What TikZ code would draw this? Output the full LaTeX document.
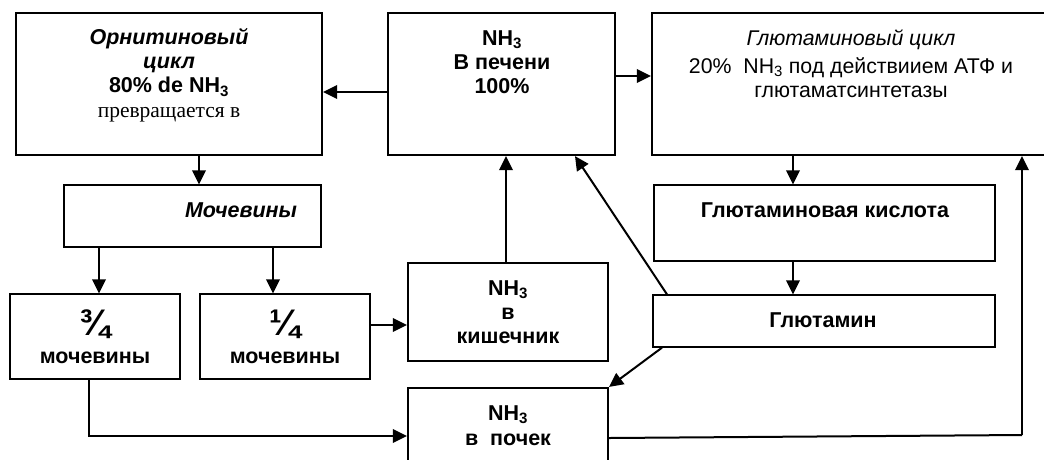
\documentclass[tikz,border=0pt]{standalone}
\usepackage{fontspec}
\setmainfont{Liberation Sans}
\newfontfamily\serifcyr{Liberation Serif}
\usetikzlibrary{arrows.meta}
\begin{document}
\begin{tikzpicture}[x=1pt,y=-1pt,
  heavybox/.style={draw, line width=2.2pt, rectangle, inner sep=0pt},
  lightbox/.style={draw, line width=1.3pt, rectangle, inner sep=0pt},
  arr/.style={line width=2pt, -{Triangle[length=14pt,width=13.5pt]}},
  plain/.style={line width=2pt},
  txt/.style={anchor=north, inner sep=0pt, align=center, font=\fontsize{21.5}{24.3}\selectfont},
  onetxt/.style={anchor=base, inner sep=0pt, font=\fontsize{21.5}{24}\selectfont\bfseries},
  fraction/.style={font=\fontsize{37}{24}\selectfont\bfseries}]
\useasboundingbox (0,0) rectangle (1044,459);
\clip (0,0) rectangle (1044,459);

% boxes
\node[heavybox, minimum width=306pt, minimum height=142pt] (orn)  at (169,84) {};
\node[heavybox, minimum width=227pt, minimum height=142pt] (liver) at (501.5,84) {};
\node[heavybox, minimum width=398pt, minimum height=142pt] (glc)  at (851,84) {};
\node[lightbox, minimum width=257pt, minimum height=62pt]  (moch) at (192.5,216) {};
\node[lightbox, minimum width=170pt, minimum height=85pt]  (q34)  at (95,336.5) {};
\node[lightbox, minimum width=170pt, minimum height=85pt]  (q14)  at (285,336.5) {};
\node[heavybox, minimum width=200pt, minimum height=98pt]  (kish) at (508,312) {};
\node[heavybox, minimum width=200pt, minimum height=87pt]  (poch) at (508,431.5) {};
\node[lightbox, minimum width=341pt, minimum height=76pt]  (acid) at (824.5,223) {};
\node[lightbox, minimum width=342pt, minimum height=52pt]  (glm)  at (824,321) {};

% texts
\node[txt] (tOrn) at (169,27) {\strut\bfseries\itshape Орнитиновый\\\bfseries\itshape цикл\\\bfseries 80\% de NH\textsubscript{3}\\\serifcyr превращается в};
\node[txt] (tLiver) at (502,28) {\strut\bfseries NH\textsubscript{3}\\\bfseries В печени\\\bfseries 100\%};
\node[txt, font=\fontsize{21.3}{24}\selectfont] (tGlc) at (851,28.2) {\strut\itshape Глютаминовый цикл\\[4pt]20\%\ \ NH\textsubscript{3} под действиием АТФ и\\глютаматсинтетазы};
\node[onetxt, font=\fontsize{21.5}{24}\selectfont\bfseries\itshape] (tMoch) at (241,217) {Мочевины};
\node[onetxt, fraction] (fQ34) at (95,335) {¾};
\node[onetxt] (tQ34) at (95,363) {мочевины};
\node[onetxt, fraction] (fQ14) at (285,335) {¼};
\node[onetxt] (tQ14) at (285,363) {мочевины};
\node[txt, font=\fontsize{21.5}{24}\selectfont] (tKish) at (508,278.2) {\strut\bfseries NH\textsubscript{3}\\\bfseries в\\\bfseries кишечник};
\node[txt, font=\fontsize{21.5}{25}\selectfont] (tPoch) at (508,402.5) {\strut\bfseries NH\textsubscript{3}\\\bfseries в\ \ почек};
\node[onetxt] (tAcid) at (825,217) {Глютаминовая кислота};
\node[onetxt] (tGlm) at (823,327) {Глютамин};

% connectors
\draw[arr] (liver.west |- 0,92) -- (orn.east |- 0,92);
\draw[arr] (liver.east |- 0,76) -- (glc.west |- 0,76);
\draw[arr] (orn.south -| 199,0) -- (moch.north -| 199,0);
\draw[arr] (moch.south -| 99,0) -- (q34.north -| 99,0);
\draw[arr] (moch.south -| 273,0) -- (q14.north -| 273,0);
\draw[arr] (q14.east |- 0,325) -- (kish.west |- 0,325);
\draw[arr] (q34.south -| 89,0) |- (poch.west |- 0,436);
\draw[arr] (kish.north -| 506,0) -- (liver.south -| 506,0);
\draw[arr] (glm.north -| 667,0) -- (liver.south -| 575,0);
\draw[arr] (glm.south -| 662,0) -- (poch.north east);
\draw[arr] (glc.south -| 793,0) -- (acid.north -| 793,0);
\draw[arr] (acid.south -| 793,0) -- (glm.north -| 793,0);
\coordinate (kidneyTurn) at (1022,435);
\draw[plain] (poch.east |- 0,438) -- (kidneyTurn);
\draw[arr] (kidneyTurn) -- (glc.south -| kidneyTurn);
\end{tikzpicture}
\end{document}
